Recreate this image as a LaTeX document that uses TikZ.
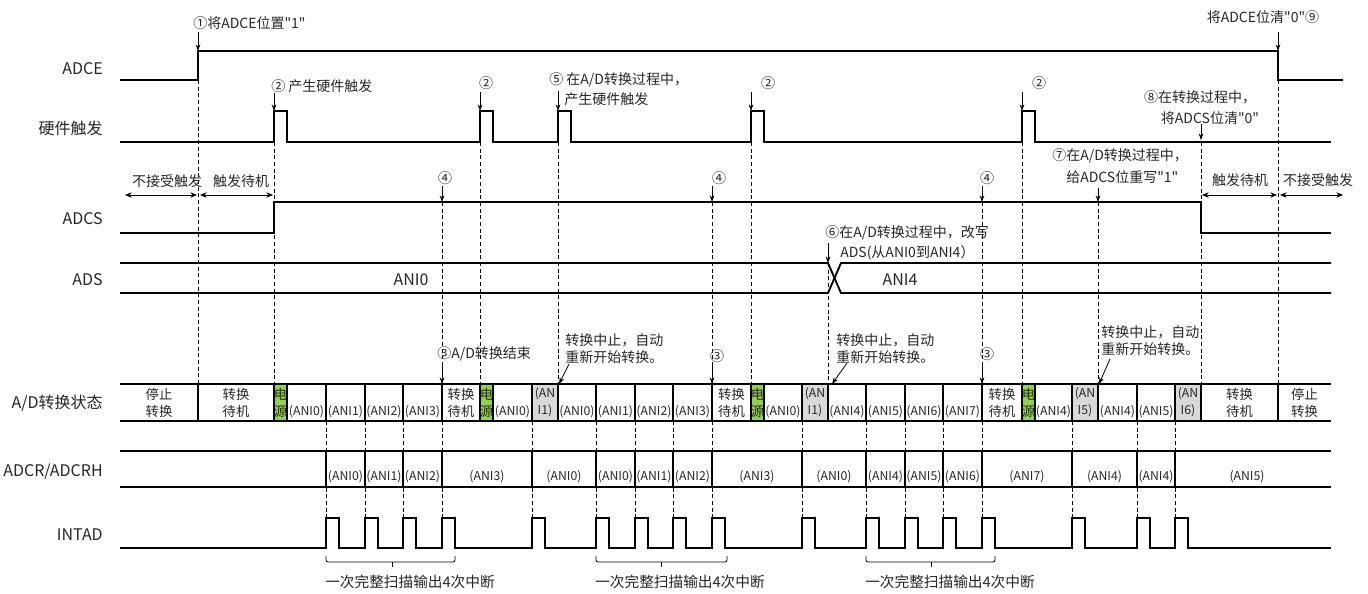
\documentclass[tikz,border=0pt]{standalone}
\usepackage{fontspec}
\setmainfont{Noto Sans CJK SC}[Ligatures=TeXOff]
\usetikzlibrary{arrows.meta}
\definecolor{pwr}{HTML}{92D050}
\definecolor{abort}{HTML}{D9D9D9}

\begin{document}
\begin{tikzpicture}[x=0.75pt, y=-0.75pt,
  every node/.style={inner sep=0pt, text=black!85, font=\fontsize{10.5}{13}\selectfont},
  sig/.style={line width=1.4pt},
  row/.style={line width=1.1pt},
  guide/.style={line width=0.6pt, dash pattern=on 3pt off 2pt},
  pointer/.style={line width=0.6pt, -{Stealth[length=5pt,width=3.5pt]}},
  span/.style={line width=0.6pt, {Stealth[length=5pt,width=4pt]}-{Stealth[length=5pt,width=4pt]}},
  lbl/.style={anchor=east, font=\fontsize{12}{14}\selectfont},
  cellt/.style={align=center, font=\fontsize{10}{12.75}\selectfont},
  ani/.style={align=center, font=\fontsize{9.2}{12.75}\selectfont},
  brace/.style={line width=0.6pt, rounded corners=1.5pt}]
\useasboundingbox (0,0) rectangle (1368,593);

% signal names
\node[lbl] (lADCE) at (103,69) {ADCE};
\node[lbl] (lHW) at (103,128) {硬件触发};
\node[lbl] (lADCS) at (103,219) {ADCS};
\node[lbl] (lADS) at (103,280) {ADS};
\node[lbl] (lSTATE) at (103,403) {A/D转换状态};
\node[lbl] (lADCR) at (103,472) {ADCR/ADCRH};
\node[lbl] (lINTAD) at (103,535) {INTAD};

% cell fills
\foreach \x in {274,480,751,1022} \fill[pwr] (\x,384) rectangle (\x+13,421);
\foreach \x in {532,802,1072,1175} \fill[abort] (\x,384) rectangle (\x+26,421);

% dashed guides
\foreach \x/\y in {198/80, 274/142, 442/202, 480/142, 558/142, 712/202, 751/142,
  828/263, 982/202, 1022/142, 1098/202, 1201/142, 1278/80}
  \draw[guide] (\x,\y) -- (\x,384);
\foreach \x in {326,365,403,442,532,596,635,673,712,802,866,905,943,982,1072,1137,1175}
  \draw[guide] (\x,421) -- (\x,518);

% A/D state row
\draw[row] (120,384) -- (1331,384) (120,421) -- (1331,421);
\foreach \x in {198,274,287,326,365,403,442,480,493,532,558,596,635,673,712,751,764,
  802,828,866,905,943,982,1022,1035,1072,1098,1137,1175,1201,1278}
  \draw[row] (\x,384) -- (\x,421);

% ADCR row
\draw[row] (120,451) -- (1331,451) (120,487) -- (1331,487);
\foreach \x in {326,365,403,442,532,596,635,673,712,802,866,905,943,982,1072,1137,1175}
  \draw[row] (\x,451) -- (\x,487);

% waveforms
\draw[sig] (120,80) -- (198,80) -- (198,51) -- (1278,51) -- (1278,80) -- (1343,80);
\draw[sig] (120,142) foreach \t in {274,480,558,751,1022} { -- (\t,142) -- (\t,111) -- (\t+13,111) -- (\t+13,142) } -- (1331,142);
\draw[sig] (120,233) -- (274,233) -- (274,202) -- (1201,202) -- (1201,233) -- (1331,233);
\draw[sig] (120,263) -- (828,263) -- (841,293) -- (1331,293);
\draw[sig] (120,293) -- (828,293) -- (841,263) -- (1331,263);
\draw[sig] (120,548) foreach \t in {326,365,403,442,532,596,635,673,712,802,866,905,943,982,1072,1137,1175} { -- (\t,548) -- (\t,518) -- (\t+13,518) -- (\t+13,548) } -- (1331,548);

% ADS values
\node[font=\fontsize{12}{14}\selectfont] (vANI0) at (411,280) {ANI0};
\node[font=\fontsize{12}{14}\selectfont] (vANI4) at (900,280) {ANI4};

% state cells
\foreach \x/\t [count=\i] in {159/{停止\\转换}, 236/{转换\\待机}, 461/{转换\\待机}, 731.5/{转换\\待机},
  1002/{转换\\待机}, 1239.5/{转换\\待机}, 1304.5/{停止\\转换}}
  \node[cellt] (wait\i) at (\x,402.5) {\t};
\foreach \x [count=\i] in {280.5,486.5,757.5,1028.5}
  \node[cellt] (pwr\i) at (\x,402.5) {电\\源};
\foreach \x/\t [count=\i] in {545/1, 815/1, 1085/5, 1188/6}
  \node[ani] (abt\i) at (\x,402.5) {(AN\\I\t)};
\foreach \x/\t [count=\i] in {306.5/0, 345.5/1, 384/2, 422.5/3, 512.5/0, 577/0, 615.5/1, 654/2,
  692.5/3, 783/0, 847/4, 885.5/5, 924/6, 962.5/7, 1053.5/4, 1117.5/4, 1156/5}
  \node[ani] (conv\i) at (\x,412) {(ANI\t)};

% ADCR values
\foreach \x/\t [count=\i] in {345.5/0, 384/1, 422.5/2, 487/3, 564/0, 615.5/0, 654/1, 692.5/2,
  757/3, 834/0, 885.5/4, 924/5, 962.5/6, 1027/7, 1104.5/4, 1156/4, 1247/5}
  \node[ani] (res\i) at (\x,477) {(ANI\t)};

% braces under INTAD
\foreach \a/\b/\m [count=\i] in {326/455/392, 596/727/661, 866/995/931} {
  \draw[brace] (\a,556) -- (\a,562) -- (\b,562) -- (\b,556);
  \draw[line width=0.6pt] (\m,562) -- (\m,567);
  \node[anchor=west, font=\fontsize{11}{13}\selectfont] (scan\i) at (\a-1,582) {一次完整扫描输出4次中断};
}

% notes on top
\node[anchor=west] (n1) at (193,23) {①将ADCE位置"1"};
\draw[pointer] (198,32) -- (198,51);
\node[anchor=west] (n2a) at (271,86) {② 产生硬件触发};
\draw[pointer] (274,93) -- (274,111);
\node (n2b) at (486,83) {②};
\draw[pointer] (480,92) -- (480,111);
\node[anchor=west] (n5) at (549,80) {⑤ 在A/D转换过程中，};
\node[anchor=west] (n5b) at (564,99) {产生硬件触发};
\draw[pointer] (558,91) -- (558,111);
\node (n2c) at (768,83) {②};
\draw[pointer] (751,92) -- (751,111);
\node (n2d) at (1039,83) {②};
\draw[pointer] (1022,92) -- (1022,111);
\node (n9) at (1263,17) {将ADCE位清"0"⑨};
\draw[pointer] (1278,32) -- (1278,51);
\node (n8) at (1200,97) {⑧在转换过程中，};
\node (n8b) at (1210,118) {将ADCS位清"0"};
\draw[pointer] (1201,124) -- (1201,140);
\node[anchor=west] (n7) at (1052,156) {⑦在A/D转换过程中，};
\node[anchor=west] (n7b) at (1066,177) {给ADCS位重写"1"};
\draw[pointer] (1098,188) -- (1098,202);

% trigger windows
\node (nAcc1) at (167,181) {不接受触发};
\node (nWait1) at (241,181) {触发待机};
\draw[span] (125,195) -- (197,195);
\draw[span] (200,195) -- (273,195);
\node (nWait2) at (1240,180) {触发待机};
\node (nAcc2) at (1318,180) {不接受触发};
\draw[span] (1202,195) -- (1277,195);
\draw[span] (1280,195) -- (1343,195);

% end of conversion marks
\foreach \x/\l [count=\i] in {442/445, 712/719, 982/987} {
  \node (n4\i) at (\l,178) {④};
  \draw[pointer] (\x,186) -- (\x,202);
  \draw[pointer] (\x,363) -- (\x,384);
}
\node[anchor=west] (n3a) at (437,354) {③A/D转换结束};
\node (n3b) at (717,356) {③};
\node (n3c) at (987,354) {③};

% ADS rewrite
\node[anchor=west] (n6) at (825,233) {⑥在A/D转换过程中，改写};
\node[anchor=west] (n6b) at (840,253) {ADS(从ANI0到ANI4）};
\draw[pointer] (828,243) -- (828,263);

% restarts
\node[anchor=west, align=left] (rs1) at (565,349) {转换中止，自动\\重新开始转换。};
\draw[pointer] (569,364) -- (559,384);
\node[anchor=west, align=left] (rs2) at (836,349) {转换中止，自动\\重新开始转换。};
\draw[pointer] (847,363) -- (832,384);
\node[anchor=west, align=left] (rs3) at (1101,341) {转换中止，自动\\重新开始转换。};
\draw[pointer] (1110,359) -- (1099,384);
\end{tikzpicture}
\end{document}
